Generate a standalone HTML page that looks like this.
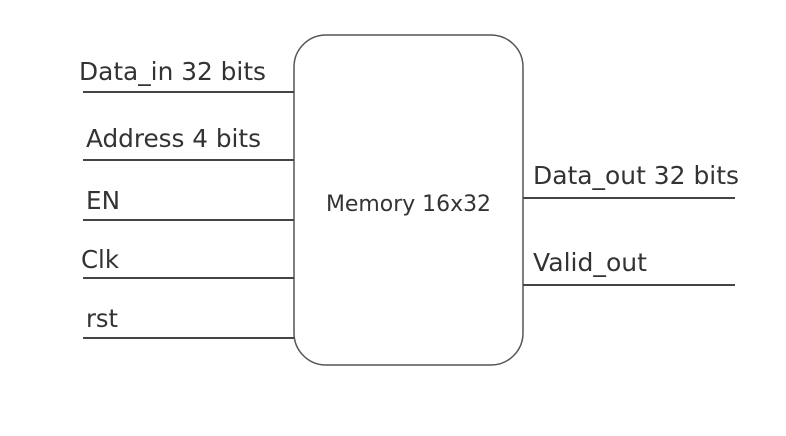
<!DOCTYPE html>
<html><head><style>body{margin:0;background:#fff}</style></head><body>
<svg width="786" height="431" xmlns="http://www.w3.org/2000/svg" font-family="'DejaVu Sans','Liberation Sans',sans-serif" fill="#333">
<rect x="294" y="35" width="229" height="330" rx="32" ry="32" fill="#fff" stroke="#555" stroke-width="1.5"/>
<g stroke="#444" stroke-width="2">
<line x1="83" y1="92" x2="294" y2="92"/>
<line x1="83" y1="160" x2="294" y2="160"/>
<line x1="83" y1="220" x2="294" y2="220"/>
<line x1="83" y1="278" x2="294" y2="278"/>
<line x1="83" y1="338" x2="294" y2="338"/>
<line x1="523" y1="198" x2="735" y2="198"/>
<line x1="523" y1="285" x2="735" y2="285"/>
</g>
<g font-size="25">
<text x="79" y="80" textLength="187" lengthAdjust="spacingAndGlyphs">Data_in 32 bits</text>
<text x="86" y="147" textLength="175" lengthAdjust="spacingAndGlyphs">Address 4 bits</text>
<text x="86" y="209" textLength="34" lengthAdjust="spacingAndGlyphs">EN</text>
<text x="81" y="268" textLength="38" lengthAdjust="spacingAndGlyphs">Clk</text>
<text x="86" y="327" textLength="32" lengthAdjust="spacingAndGlyphs">rst</text>
<text x="533" y="184" textLength="206" lengthAdjust="spacingAndGlyphs">Data_out 32 bits</text>
<text x="533" y="271" textLength="114" lengthAdjust="spacingAndGlyphs">Valid_out</text>
</g>
<text x="326" y="211" font-size="22" textLength="165" lengthAdjust="spacingAndGlyphs">Memory 16x32</text>
</svg>
</body></html>
